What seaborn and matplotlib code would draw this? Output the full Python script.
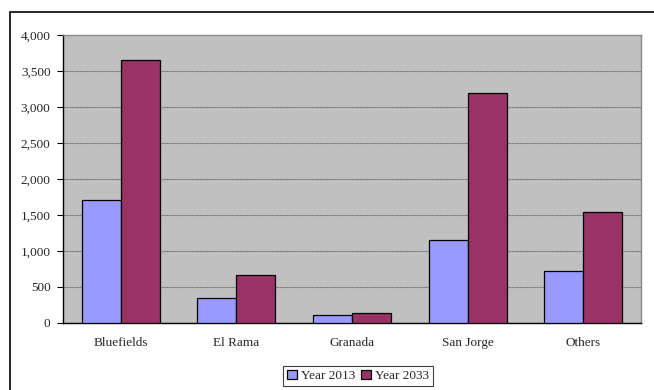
import pandas as pd
import matplotlib.pyplot as plt
import seaborn as sns
from matplotlib.patches import Rectangle
from matplotlib.ticker import FuncFormatter, FixedLocator

# data
places = ['Bluefields', 'El Rama', 'Granada', 'San Jorge', 'Others']
year_2013 = [1710, 350, 105, 1145, 720]
year_2033 = [3650, 665, 140, 3200, 1540]

data = pd.DataFrame({
    'place': places * 2,
    'value': year_2013 + year_2033,
    'year': ['Year 2013'] * len(places) + ['Year 2033'] * len(places),
})

sns.set_style('white')
plt.rcParams['font.family'] = ['Liberation Serif', 'DejaVu Serif']

fig = plt.figure(figsize=(6.54, 3.9), dpi=100)
ax = fig.add_axes([63 / 654, 1 - 322.7 / 390, (641 - 63) / 654, (322.7 - 35) / 390])

sns.barplot(data=data, x='place', y='value', hue='year',
            palette=['#9999FF', '#993366'], width=0.675, gap=0,
            edgecolor='black', linewidth=0.9, saturation=1, ax=ax, zorder=3)

ax.set_facecolor('#C0C0C0')
ax.set_xlim(-0.5, len(places) - 0.5)
ax.set_ylim(0, 4000)
ax.set_yticks(range(0, 4001, 500))
ax.yaxis.set_major_formatter(FuncFormatter(lambda v, p: f'{int(v):,}'))
ax.grid(axis='y', color='#6e6e6e', linewidth=0.8, linestyle=(0, (1, 0.5)), zorder=0)
ax.set_axisbelow(True)
ax.set_xlabel('')
ax.set_ylabel('')

ax.tick_params(axis='x', which='major', length=0, pad=10, labelsize=9.5)
ax.xaxis.set_minor_locator(FixedLocator([i + 0.5 for i in range(len(places) - 1)]))
ax.tick_params(axis='x', which='minor', direction='in', length=4, width=0.8, color='black')
ax.tick_params(axis='y', which='major', direction='out', length=4, width=0.8,
               left=True, color='black', labelsize=9.5, pad=5)

for side in ['left', 'bottom']:
    ax.spines[side].set_color('black')
    ax.spines[side].set_linewidth(1)
for side in ['top', 'right']:
    ax.spines[side].set_color('#8a8a8a')
    ax.spines[side].set_linewidth(1)

handles, labels = ax.get_legend_handles_labels()
ax.legend_.remove()
leg = fig.legend(handles, labels, loc='upper center', bbox_to_anchor=(358 / 654, 1 - 366 / 390),
                 ncol=2, frameon=True, fancybox=False, edgecolor='#404040', framealpha=1,
                 fontsize=9.5, handlelength=0.7, handleheight=0.7, handletextpad=0.3,
                 columnspacing=0.5, borderpad=0.3, borderaxespad=0)
leg.get_frame().set_linewidth(0.8)

# outer chart frame (right and bottom edges fall outside the picture)
fig.patches.append(Rectangle((10 / 654, -0.1), 1.1, 1.1 - 12 / 390, transform=fig.transFigure,
                             fill=False, edgecolor='black', linewidth=1.2, zorder=0))

fig.savefig('out.png', dpi=100)
